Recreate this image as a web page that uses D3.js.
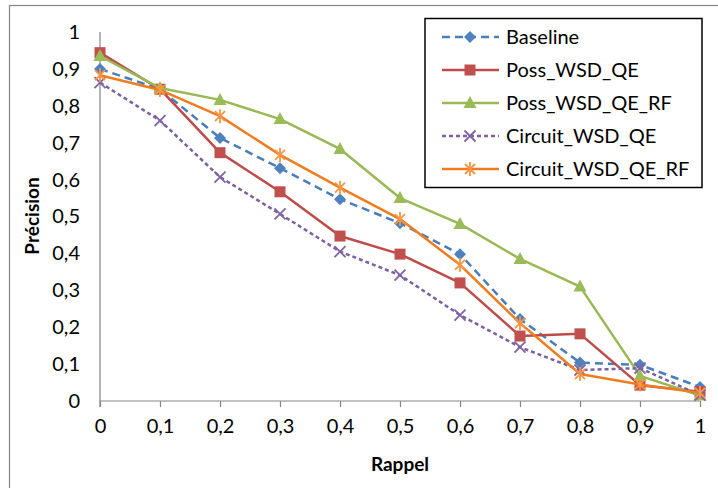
<!DOCTYPE html>
<html>
<head>
<meta charset="utf-8">
<script src="https://cdn.jsdelivr.net/npm/d3@7"></script>
<style>
  body { margin: 0; background: #fff; }
  svg { display: block; font-family: Lato, "Open Sans", sans-serif; }
</style>
</head>
<body>
<svg id="chart" width="718" height="488"></svg>
<script>
(function () {

    // rappel values (x)
    var rappel = [0, 0.1, 0.2, 0.3, 0.4, 0.5, 0.6, 0.7, 0.8, 0.9, 1];

    // precision values per method
    var baseline      = [0.90, 0.845, 0.713, 0.631, 0.547, 0.482, 0.398, 0.222, 0.104, 0.098, 0.038];
    var possQE        = [0.944, 0.845, 0.673, 0.567, 0.447, 0.398, 0.320, 0.176, 0.182, 0.043, 0.025];
    var possQERF      = [0.935, 0.848, 0.816, 0.764, 0.683, 0.550, 0.480, 0.385, 0.310, 0.068, 0.015];
    var circuitQE     = [0.863, 0.760, 0.607, 0.507, 0.405, 0.341, 0.233, 0.146, 0.084, 0.089, 0.016];
    var circuitQERF   = [0.883, 0.843, 0.772, 0.667, 0.578, 0.493, 0.369, 0.211, 0.073, 0.045, 0.022];

    var seriesNames = ["Baseline", "Poss_WSD_QE", "Poss_WSD_QE_RF", "Circuit_WSD_QE", "Circuit_WSD_QE_RF"];
    var xTicks = [0, 0.1, 0.2, 0.3, 0.4, 0.5, 0.6, 0.7, 0.8, 0.9, 1];
    var yTicks = [0, 0.1, 0.2, 0.3, 0.4, 0.5, 0.6, 0.7, 0.8, 0.9, 1];

    var series = [
        {name: seriesNames[0], values: baseline,    color: "#4a7ebb", marker: "diamond",  dash: "8,5"},
        {name: seriesNames[1], values: possQE,      color: "#be4b48", marker: "square",   dash: null},
        {name: seriesNames[2], values: possQERF,    color: "#98b954", marker: "triangle", dash: null},
        {name: seriesNames[3], values: circuitQE,   color: "#7d60a0", marker: "cross",    dash: "4,3"},
        {name: seriesNames[4], values: circuitQERF, color: "#f07c1e", marker: "star",     dash: null}
    ];

    var svg = d3.select("#chart");
    var fmt = function (v) { return String(+v.toFixed(1)).replace(".", ","); };

    var x = d3.scaleLinear().domain([0, 1]).range([100, 700]);
    var y = d3.scaleLinear().domain([0, 1]).range([401, 32]);

    // outer chart border
    svg.append("rect")
        .attr("x", 9.5).attr("y", 5.5)
        .attr("width", 720).attr("height", 490)
        .attr("fill", "none")
        .attr("stroke", "#868686")
        .attr("stroke-width", 1.2);

    // x axis
    var xAxis = d3.axisBottom(x).tickValues(xTicks).tickFormat(fmt).tickSize(6).tickPadding(12);
    var gx = svg.append("g").attr("transform", "translate(0," + y(0) + ")").call(xAxis);
    gx.select(".domain").attr("stroke", "#868686").attr("stroke-width", 1.2).attr("d", "M" + x(0) + ",0H" + x(1));
    gx.selectAll(".tick line").attr("stroke", "#868686").attr("stroke-width", 1.2);
    gx.selectAll(".tick text").attr("fill", "#000").style("font-size", "20px").style("font-family", "Lato, sans-serif");

    // y axis
    var yAxis = d3.axisLeft(y).tickValues(yTicks).tickFormat(fmt).tickSize(0).tickPadding(20);
    var gy = svg.append("g").attr("transform", "translate(" + x(0) + ",0)").call(yAxis);
    gy.select(".domain").attr("stroke", "#868686").attr("stroke-width", 1.2).attr("d", "M0," + y(1) + "V" + (y(0) + 6));
    gy.selectAll(".tick text").attr("fill", "#000").style("font-size", "20px").style("font-family", "Lato, sans-serif");

    // axis titles
    svg.append("text")
        .attr("x", 400).attr("y", 471)
        .attr("text-anchor", "middle")
        .style("font-size", "19px").style("font-weight", "bold")
        .text("Rappel");
    svg.append("text")
        .attr("transform", "translate(39,216) rotate(-90)")
        .attr("text-anchor", "middle")
        .style("font-size", "19px").style("font-weight", "bold")
        .text("Précision");

    function drawMarker(g, type, color) {
        if (type === "diamond") {
            g.append("path").attr("d", "M0,-6L6,0L0,6L-6,0Z").attr("fill", "#4f81bd");
        } else if (type === "square") {
            g.append("rect").attr("x", -5.5).attr("y", -5.5).attr("width", 11).attr("height", 11).attr("fill", "#c0504d");
        } else if (type === "triangle") {
            g.append("path").attr("d", "M0,-7L6.5,5L-6.5,5Z").attr("fill", "#9bbb59");
        } else if (type === "cross") {
            g.append("path").attr("d", "M-5.5,-5.5L5.5,5.5M-5.5,5.5L5.5,-5.5")
                .attr("stroke", "#8064a2").attr("stroke-width", 1.8).attr("fill", "none");
        } else if (type === "star") {
            g.append("path").attr("d", "M-5,-5L5,5M-5,5L5,-5M0,-7V7")
                .attr("stroke", "#f79646").attr("stroke-width", 1.8).attr("fill", "none");
        }
    }

    var line = d3.line()
        .x(function (d, i) { return x(rappel[i]); })
        .y(function (d) { return y(d); });

    series.forEach(function (s) {
        var g = svg.append("g").attr("class", "series");
        g.append("path")
            .attr("d", line(s.values))
            .attr("fill", "none")
            .attr("stroke", s.color)
            .attr("stroke-width", 2.5)
            .attr("stroke-linejoin", "round")
            .attr("stroke-dasharray", s.dash);
        s.values.forEach(function (v, i) {
            var m = g.append("g").attr("transform", "translate(" + x(rappel[i]) + "," + y(v) + ")");
            drawMarker(m, s.marker, s.color);
        });
    });

    // legend
    var legend = svg.append("g");
    legend.append("rect")
        .attr("x", 425).attr("y", 18.5)
        .attr("width", 277).attr("height", 169)
        .attr("fill", "#fff")
        .attr("stroke", "#000")
        .attr("stroke-width", 1.5);
    var rows = legend.selectAll("g.legendEntry")
        .data(series)
        .enter()
        .append("g")
        .attr("class", "legendEntry")
        .attr("transform", function (d, i) { return "translate(0," + (37 + i * 33) + ")"; });
    rows.append("line")
        .attr("x1", 442).attr("x2", 499)
        .attr("stroke", function (d) { return d.color; })
        .attr("stroke-width", 2.5)
        .attr("stroke-dasharray", function (d) { return d.dash; });
    rows.each(function (d) {
        var m = d3.select(this).append("g").attr("transform", "translate(470,0)");
        drawMarker(m, d.marker, d.color);
    });
    rows.append("text")
        .attr("x", 506).attr("y", 7)
        .style("font-size", "20px")
        .text(function (d) { return d.name; });

})();
</script>
</body>
</html>
